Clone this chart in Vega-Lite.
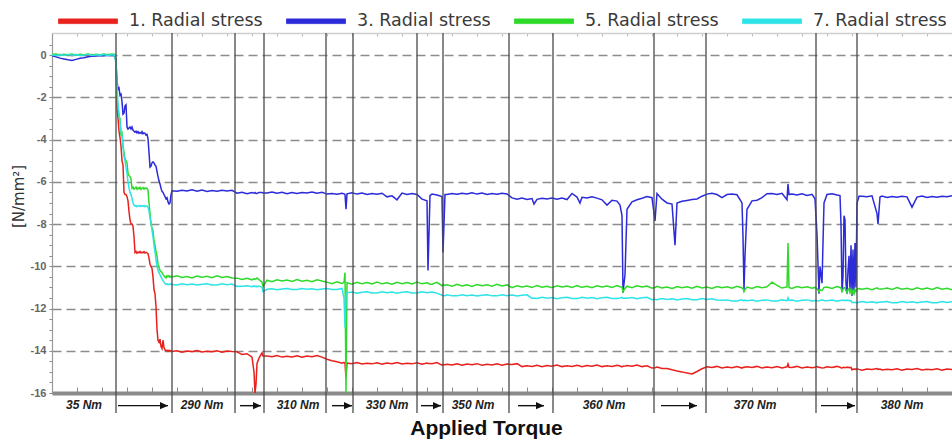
{
"$schema": "https://vega.github.io/schema/vega-lite/v6.json",
"width": 900, "height": 360,
"autosize": {"type": "none"},
"padding": {"left": 52, "top": 33, "right": 0, "bottom": 48},
"background": "white",
"config": {"view": {"stroke": null}, "font": "Liberation Sans"},
"resolve": {"axis": {"x": "independent", "y": "independent"}},
"datasets": {
"series": [
{"x":52,"r":0.02,"b":-0.02,"g":0.03,"c":0.01},
{"x":56,"r":-0.01,"b":-0.08,"g":0.05,"c":-0.02},
{"x":60,"r":0.03,"b":-0.14,"g":0.01,"c":0.02},
{"x":64,"r":0.0,"b":-0.18,"g":0.04,"c":-0.01},
{"x":68,"r":0.02,"b":-0.22,"g":0.02,"c":0.03},
{"x":72,"r":-0.02,"b":-0.25,"g":0.05,"c":0.0},
{"x":76,"r":0.03,"b":-0.2,"g":0.0,"c":0.02},
{"x":80,"r":0.0,"b":-0.15,"g":0.04,"c":-0.02},
{"x":84,"r":0.02,"b":-0.12,"g":0.02,"c":0.01},
{"x":88,"r":-0.02,"b":-0.08,"g":0.05,"c":0.03},
{"x":92,"r":0.03,"b":-0.05,"g":0.01,"c":-0.01},
{"x":96,"r":0.0,"b":-0.04,"g":0.04,"c":0.02},
{"x":100,"r":0.02,"b":-0.02,"g":0.02,"c":0.0},
{"x":104,"r":-0.01,"b":-0.03,"g":0.06,"c":0.03},
{"x":108,"r":0.03,"b":0.0,"g":0.02,"c":-0.01},
{"x":112,"r":0.01,"b":-0.02,"g":0.05,"c":0.02},
{"x":115,"r":0.0,"b":-0.03,"g":0.03,"c":0.0},
{"x":116,"r":-0.3,"b":-0.3,"g":-0.3,"c":-0.5},
{"x":117,"r":-2.5,"b":-1.2,"g":-2.0,"c":-1.5},
{"x":118,"r":-3.0,"b":-1.6,"g":-2.5,"c":-2.3},
{"x":119,"r":-3.6,"b":-1.55,"g":-2.9,"c":-2.8},
{"x":120,"r":-3.9,"b":-1.9,"g":-3.0,"c":-3.2},
{"x":121,"r":-4.3,"b":-1.85,"g":-3.8,"c":-3.6},
{"x":122,"r":-5.0,"b":-2.2,"g":-3.7,"c":-3.8},
{"x":123,"r":-5.2,"b":-2.8,"g":-4.3,"c":-4.3},
{"x":124,"r":-6.5,"b":-2.75,"g":-4.6,"c":-4.8},
{"x":125,"r":-6.6,"b":-2.4,"g":-4.9,"c":-5.0},
{"x":126,"r":-6.6,"b":-2.35,"g":-5.0,"c":-5.3},
{"x":127,"r":-6.7,"b":-3.4,"g":-5.1,"c":-5.6},
{"x":128,"r":-6.9,"b":-3.5,"g":-5.6,"c":-6.0},
{"x":129,"r":-7.4,"b":-3.45,"g":-5.7,"c":-6.3},
{"x":130,"r":-7.8,"b":-3.4,"g":-5.75,"c":-6.5},
{"x":131,"r":-8.0,"b":-3.5,"g":-5.85,"c":-6.6},
{"x":132,"r":-8.0,"b":-3.4,"g":-6.3,"c":-6.8},
{"x":133,"r":-8.1,"b":-3.55,"g":-6.25,"c":-7.0},
{"x":134,"r":-8.6,"b":-3.6,"g":-6.35,"c":-7.1},
{"x":135,"r":-9.35,"b":-3.65,"g":-6.3,"c":-7.15},
{"x":136,"r":-9.3,"b":-3.6,"g":-6.25,"c":-7.12},
{"x":137,"r":-9.38,"b":-3.68,"g":-6.35,"c":-7.18},
{"x":138,"r":-9.32,"b":-3.62,"g":-6.28,"c":-7.14},
{"x":139,"r":-9.36,"b":-3.7,"g":-6.33,"c":-7.16},
{"x":140,"r":-9.3,"b":-3.66,"g":-6.26,"c":-7.12},
{"x":141,"r":-9.37,"b":-3.7,"g":-6.36,"c":-7.17},
{"x":142,"r":-9.33,"b":-3.62,"g":-6.3,"c":-7.13},
{"x":143,"r":-9.36,"b":-3.72,"g":-6.27,"c":-7.16},
{"x":144,"r":-9.31,"b":-3.68,"g":-6.34,"c":-7.12},
{"x":145,"r":-9.37,"b":-3.7,"g":-6.29,"c":-7.18},
{"x":146,"r":-9.34,"b":-3.78,"g":-6.32,"c":-7.14},
{"x":147,"r":-9.36,"b":-3.75,"g":-6.3,"c":-7.15},
{"x":148,"r":-9.4,"b":-3.95,"g":-6.4,"c":-7.2},
{"x":149,"r":-9.6,"b":-4.6,"g":-7.0,"c":-7.4},
{"x":150,"r":-9.9,"b":-5.3,"g":-7.5,"c":-7.7},
{"x":151,"r":-10.0,"b":-5.25,"g":-8.0,"c":-7.9},
{"x":152,"r":-10.1,"b":-5.1,"g":-8.2,"c":-8.3},
{"x":153,"r":-10.5,"b":-5.05,"g":-8.3,"c":-8.6},
{"x":154,"r":-11.1,"b":-5.1,"g":-8.8,"c":-9.0},
{"x":155,"r":-11.3,"b":-5.2,"g":-9.0,"c":-9.3},
{"x":156,"r":-11.9,"b":-5.25,"g":-9.3,"c":-9.7},
{"x":157,"r":-13.0,"b":-5.5,"g":-9.5,"c":-10.0},
{"x":158,"r":-13.5,"b":-5.75,"g":-9.9,"c":-10.2},
{"x":159,"r":-13.6,"b":-5.95,"g":-10.05,"c":-10.3},
{"x":160,"r":-13.45,"b":-6.1,"g":-10.2,"c":-10.4},
{"x":161,"r":-13.8,"b":-6.3,"g":-10.25,"c":-10.5},
{"x":162,"r":-13.9,"b":-6.45,"g":-10.3,"c":-10.6},
{"x":163,"r":-13.5,"b":-6.5,"g":-10.38,"c":-10.68},
{"x":164,"r":-13.85,"b":-6.6,"g":-10.45,"c":-10.75},
{"x":165,"r":-13.95,"b":-6.7,"g":-10.5,"c":-10.8},
{"x":166,"r":-14.0,"b":-6.8,"g":-10.55,"c":-10.85},
{"x":167,"r":-13.97,"b":-6.75,"g":-10.45,"c":-10.82},
{"x":168,"r":-14.03,"b":-6.95,"g":-10.5,"c":-10.87},
{"x":169,"r":-13.98,"b":-7.05,"g":-10.44,"c":-10.84},
{"x":170,"r":-14.02,"b":-7.0,"g":-10.52,"c":-10.86},
{"x":171,"r":-13.99,"b":-6.6,"g":-10.47,"c":-10.83},
{"x":172,"r":-14.03,"b":-6.42,"g":-10.5,"c":-10.86},
{"x":177,"r":-14.0,"b":-6.45,"g":-10.45,"c":-10.88},
{"x":182,"r":-14.07,"b":-6.4,"g":-10.53,"c":-10.83},
{"x":187,"r":-14.01,"b":-6.43,"g":-10.48,"c":-10.87},
{"x":192,"r":-14.04,"b":-6.38,"g":-10.55,"c":-10.84},
{"x":197,"r":-13.99,"b":-6.44,"g":-10.46,"c":-10.89},
{"x":202,"r":-14.06,"b":-6.39,"g":-10.52,"c":-10.85},
{"x":207,"r":-14.02,"b":-6.46,"g":-10.47,"c":-10.83},
{"x":212,"r":-14.05,"b":-6.41,"g":-10.54,"c":-10.88},
{"x":217,"r":-14.0,"b":-6.45,"g":-10.45,"c":-10.88},
{"x":222,"r":-14.07,"b":-6.4,"g":-10.53,"c":-10.83},
{"x":227,"r":-14.01,"b":-6.43,"g":-10.48,"c":-10.87},
{"x":232,"r":-14.04,"b":-6.4,"g":-10.55,"c":-10.84},
{"x":237,"r":-14.05,"b":-6.54,"g":-10.56,"c":-10.95},
{"x":242,"r":-14.18,"b":-6.49,"g":-10.62,"c":-10.94},
{"x":247,"r":-14.14,"b":-6.56,"g":-10.57,"c":-10.92},
{"x":252,"r":-14.3,"b":-6.51,"g":-10.64,"c":-10.97},
{"x":254,"r":-15.0,"b":-6.54,"g":-10.58,"c":-10.93},
{"x":255,"r":-16.0,"b":-6.5,"g":-10.62,"c":-10.96},
{"x":256,"r":-15.6,"b":-6.55,"g":-10.6,"c":-10.94},
{"x":257,"r":-14.6,"b":-6.55,"g":-10.55,"c":-10.97},
{"x":259,"r":-14.35,"b":-6.5,"g":-10.63,"c":-10.93},
{"x":262,"r":-14.1,"b":-6.5,"g":-10.75,"c":-11.0},
{"x":263,"r":-14.25,"b":-6.53,"g":-10.95,"c":-11.2},
{"x":267,"r":-14.25,"b":-6.53,"g":-10.66,"c":-11.09},
{"x":272,"r":-14.28,"b":-6.48,"g":-10.73,"c":-11.06},
{"x":277,"r":-14.23,"b":-6.54,"g":-10.64,"c":-11.11},
{"x":282,"r":-14.3,"b":-6.49,"g":-10.7,"c":-11.07},
{"x":287,"r":-14.26,"b":-6.56,"g":-10.65,"c":-11.05},
{"x":292,"r":-14.29,"b":-6.51,"g":-10.72,"c":-11.1},
{"x":297,"r":-14.24,"b":-6.55,"g":-10.63,"c":-11.1},
{"x":302,"r":-14.31,"b":-6.5,"g":-10.71,"c":-11.05},
{"x":307,"r":-14.25,"b":-6.53,"g":-10.66,"c":-11.09},
{"x":312,"r":-14.28,"b":-6.48,"g":-10.73,"c":-11.06},
{"x":317,"r":-14.23,"b":-6.54,"g":-10.64,"c":-11.11},
{"x":322,"r":-14.3,"b":-6.49,"g":-10.7,"c":-11.07},
{"x":327,"r":-14.4,"b":-6.58,"g":-10.75,"c":-11.05},
{"x":332,"r":-14.47,"b":-6.55,"g":-10.82,"c":-11.1},
{"x":337,"r":-14.52,"b":-6.59,"g":-10.73,"c":-11.1},
{"x":342,"r":-14.59,"b":-6.54,"g":-10.81,"c":-11.05},
{"x":344,"r":-14.55,"b":-6.57,"g":-10.76,"c":-11.5},
{"x":345,"r":-14.6,"b":-6.6,"g":-10.3,"c":-12.9},
{"x":346,"r":-15.3,"b":-7.3,"g":-16.0,"c":-11.3},
{"x":347,"r":-14.58,"b":-6.57,"g":-10.78,"c":-11.25},
{"x":352,"r":-14.61,"b":-6.52,"g":-10.85,"c":-11.22},
{"x":357,"r":-14.56,"b":-6.58,"g":-10.76,"c":-11.27},
{"x":362,"r":-14.63,"b":-6.53,"g":-10.82,"c":-11.23},
{"x":367,"r":-14.59,"b":-6.6,"g":-10.77,"c":-11.21},
{"x":372,"r":-14.62,"b":-6.55,"g":-10.84,"c":-11.26},
{"x":377,"r":-14.57,"b":-6.59,"g":-10.75,"c":-11.26},
{"x":382,"r":-14.64,"b":-6.54,"g":-10.83,"c":-11.21},
{"x":387,"r":-14.58,"b":-6.71,"g":-10.78,"c":-11.25},
{"x":392,"r":-14.61,"b":-6.66,"g":-10.85,"c":-11.22},
{"x":397,"r":-14.56,"b":-6.85,"g":-10.76,"c":-11.27},
{"x":402,"r":-14.63,"b":-6.53,"g":-10.82,"c":-11.23},
{"x":407,"r":-14.59,"b":-6.6,"g":-10.77,"c":-11.21},
{"x":412,"r":-14.62,"b":-6.55,"g":-10.84,"c":-11.26},
{"x":417,"r":-14.57,"b":-6.6,"g":-10.75,"c":-11.26},
{"x":422,"r":-14.64,"b":-6.82,"g":-10.83,"c":-11.21},
{"x":427,"r":-14.58,"b":-6.9,"g":-10.78,"c":-11.25},
{"x":428,"r":-14.6,"b":-10.2,"g":-10.8,"c":-11.24},
{"x":430,"r":-14.6,"b":-6.65,"g":-10.85,"c":-11.23},
{"x":432,"r":-14.61,"b":-6.58,"g":-10.85,"c":-11.22},
{"x":437,"r":-14.56,"b":-6.62,"g":-10.76,"c":-11.27},
{"x":442,"r":-14.68,"b":-6.7,"g":-10.92,"c":-11.37},
{"x":443,"r":-14.65,"b":-9.35,"g":-10.88,"c":-11.38},
{"x":445,"r":-14.66,"b":-6.6,"g":-10.9,"c":-11.39},
{"x":447,"r":-14.64,"b":-6.6,"g":-10.87,"c":-11.35},
{"x":452,"r":-14.67,"b":-6.55,"g":-10.94,"c":-11.4},
{"x":457,"r":-14.62,"b":-6.59,"g":-10.85,"c":-11.4},
{"x":462,"r":-14.69,"b":-6.54,"g":-10.93,"c":-11.35},
{"x":467,"r":-14.63,"b":-6.57,"g":-10.88,"c":-11.39},
{"x":472,"r":-14.66,"b":-6.52,"g":-10.95,"c":-11.36},
{"x":477,"r":-14.61,"b":-6.58,"g":-10.86,"c":-11.41},
{"x":482,"r":-14.68,"b":-6.53,"g":-10.92,"c":-11.37},
{"x":487,"r":-14.64,"b":-6.6,"g":-10.87,"c":-11.35},
{"x":492,"r":-14.67,"b":-6.55,"g":-10.94,"c":-11.4},
{"x":497,"r":-14.62,"b":-6.59,"g":-10.85,"c":-11.4},
{"x":502,"r":-14.69,"b":-6.54,"g":-10.93,"c":-11.35},
{"x":507,"r":-14.63,"b":-6.57,"g":-10.88,"c":-11.39},
{"x":512,"r":-14.65,"b":-6.76,"g":-11.01,"c":-11.36},
{"x":517,"r":-14.61,"b":-6.82,"g":-10.92,"c":-11.41},
{"x":522,"r":-14.75,"b":-6.77,"g":-10.98,"c":-11.37},
{"x":527,"r":-14.71,"b":-6.84,"g":-10.93,"c":-11.35},
{"x":532,"r":-14.74,"b":-6.79,"g":-11.0,"c":-11.52},
{"x":534,"r":-14.72,"b":-7.05,"g":-10.96,"c":-11.5},
{"x":537,"r":-14.69,"b":-6.83,"g":-10.91,"c":-11.52},
{"x":542,"r":-14.76,"b":-6.78,"g":-10.99,"c":-11.47},
{"x":547,"r":-14.7,"b":-6.81,"g":-10.94,"c":-11.51},
{"x":552,"r":-14.73,"b":-6.76,"g":-11.01,"c":-11.48},
{"x":557,"r":-14.68,"b":-6.82,"g":-10.92,"c":-11.53},
{"x":562,"r":-14.75,"b":-6.77,"g":-10.98,"c":-11.49},
{"x":567,"r":-14.71,"b":-6.84,"g":-10.93,"c":-11.47},
{"x":572,"r":-14.74,"b":-6.55,"g":-11.0,"c":-11.52},
{"x":577,"r":-14.69,"b":-6.72,"g":-10.91,"c":-11.52},
{"x":580,"r":-14.72,"b":-7.0,"g":-10.97,"c":-11.5},
{"x":582,"r":-14.76,"b":-6.73,"g":-10.99,"c":-11.47},
{"x":587,"r":-14.7,"b":-6.76,"g":-10.94,"c":-11.51},
{"x":592,"r":-14.73,"b":-6.71,"g":-11.01,"c":-11.48},
{"x":597,"r":-14.68,"b":-6.77,"g":-10.92,"c":-11.53},
{"x":602,"r":-14.75,"b":-6.85,"g":-10.98,"c":-11.49},
{"x":607,"r":-14.71,"b":-7.1,"g":-10.93,"c":-11.47},
{"x":612,"r":-14.74,"b":-6.87,"g":-11.0,"c":-11.52},
{"x":617,"r":-14.69,"b":-6.91,"g":-10.91,"c":-11.52},
{"x":620,"r":-14.72,"b":-7.1,"g":-10.97,"c":-11.5},
{"x":622,"r":-14.76,"b":-7.6,"g":-10.99,"c":-11.47},
{"x":623,"r":-14.73,"b":-11.25,"g":-11.2,"c":-11.52},
{"x":625,"r":-14.72,"b":-10.4,"g":-11.05,"c":-11.5},
{"x":627,"r":-14.7,"b":-7.3,"g":-10.94,"c":-11.51},
{"x":632,"r":-14.73,"b":-6.95,"g":-11.01,"c":-11.48},
{"x":637,"r":-14.68,"b":-6.85,"g":-10.92,"c":-11.53},
{"x":642,"r":-14.75,"b":-6.78,"g":-10.98,"c":-11.49},
{"x":647,"r":-14.71,"b":-6.7,"g":-10.93,"c":-11.47},
{"x":652,"r":-14.82,"b":-6.75,"g":-11.04,"c":-11.58},
{"x":655,"r":-14.8,"b":-7.85,"g":-11.0,"c":-11.56},
{"x":657,"r":-14.77,"b":-6.55,"g":-10.95,"c":-11.58},
{"x":662,"r":-14.84,"b":-6.82,"g":-11.03,"c":-11.53},
{"x":667,"r":-14.84,"b":-7.0,"g":-10.98,"c":-11.57},
{"x":672,"r":-14.9,"b":-7.05,"g":-11.05,"c":-11.54},
{"x":675,"r":-14.93,"b":-9.0,"g":-11.0,"c":-11.56},
{"x":677,"r":-14.96,"b":-7.0,"g":-10.96,"c":-11.59},
{"x":682,"r":-15.0,"b":-6.92,"g":-11.02,"c":-11.55},
{"x":687,"r":-15.05,"b":-6.88,"g":-10.97,"c":-11.53},
{"x":692,"r":-15.1,"b":-6.84,"g":-11.04,"c":-11.58},
{"x":697,"r":-14.98,"b":-6.81,"g":-10.95,"c":-11.58},
{"x":702,"r":-14.85,"b":-6.68,"g":-11.03,"c":-11.53},
{"x":707,"r":-14.76,"b":-6.58,"g":-10.98,"c":-11.57},
{"x":712,"r":-14.79,"b":-6.54,"g":-11.05,"c":-11.54},
{"x":717,"r":-14.74,"b":-6.6,"g":-10.96,"c":-11.59},
{"x":722,"r":-14.81,"b":-6.75,"g":-11.02,"c":-11.61},
{"x":727,"r":-14.77,"b":-6.6,"g":-10.97,"c":-11.59},
{"x":732,"r":-14.8,"b":-6.57,"g":-11.04,"c":-11.64},
{"x":737,"r":-14.75,"b":-6.61,"g":-10.95,"c":-11.64},
{"x":742,"r":-14.82,"b":-7.0,"g":-11.03,"c":-11.59},
{"x":743,"r":-14.78,"b":-8.6,"g":-11.05,"c":-11.62},
{"x":744,"r":-14.79,"b":-11.15,"g":-11.2,"c":-11.63},
{"x":745,"r":-14.77,"b":-9.5,"g":-11.1,"c":-11.6},
{"x":747,"r":-14.76,"b":-7.3,"g":-10.98,"c":-11.63},
{"x":752,"r":-14.79,"b":-6.9,"g":-11.05,"c":-11.6},
{"x":757,"r":-14.74,"b":-6.87,"g":-10.96,"c":-11.65},
{"x":762,"r":-14.81,"b":-6.75,"g":-11.02,"c":-11.61},
{"x":767,"r":-14.77,"b":-6.56,"g":-10.97,"c":-11.59},
{"x":772,"r":-14.8,"b":-6.55,"g":-10.75,"c":-11.64},
{"x":777,"r":-14.75,"b":-6.6,"g":-10.9,"c":-11.64},
{"x":782,"r":-14.82,"b":-6.54,"g":-11.03,"c":-11.59},
{"x":787,"r":-14.76,"b":-6.85,"g":-10.98,"c":-11.63},
{"x":788,"r":-14.62,"b":-6.1,"g":-8.9,"c":-11.5},
{"x":789,"r":-14.78,"b":-6.6,"g":-11.0,"c":-11.62},
{"x":792,"r":-14.79,"b":-6.58,"g":-11.05,"c":-11.6},
{"x":797,"r":-14.74,"b":-6.62,"g":-10.96,"c":-11.65},
{"x":802,"r":-14.81,"b":-6.57,"g":-11.02,"c":-11.61},
{"x":807,"r":-14.77,"b":-6.64,"g":-10.97,"c":-11.59},
{"x":812,"r":-14.8,"b":-6.59,"g":-11.04,"c":-11.64},
{"x":815,"r":-14.78,"b":-6.8,"g":-11.0,"c":-11.62},
{"x":817,"r":-14.75,"b":-8.5,"g":-11.05,"c":-11.64},
{"x":819,"r":-14.79,"b":-11.3,"g":-11.2,"c":-11.63},
{"x":820,"r":-14.78,"b":-10.0,"g":-11.1,"c":-11.62},
{"x":822,"r":-14.82,"b":-10.8,"g":-11.15,"c":-11.59},
{"x":824,"r":-14.8,"b":-7.0,"g":-11.0,"c":-11.62},
{"x":827,"r":-14.76,"b":-6.6,"g":-10.98,"c":-11.63},
{"x":832,"r":-14.79,"b":-6.56,"g":-11.05,"c":-11.6},
{"x":837,"r":-14.74,"b":-6.62,"g":-10.96,"c":-11.65},
{"x":840,"r":-14.78,"b":-6.65,"g":-11.0,"c":-11.62},
{"x":841,"r":-14.8,"b":-8.0,"g":-11.03,"c":-11.61},
{"x":842,"r":-14.81,"b":-11.2,"g":-11.2,"c":-11.61},
{"x":843,"r":-14.79,"b":-10.5,"g":-11.1,"c":-11.62},
{"x":844,"r":-14.78,"b":-7.6,"g":-11.0,"c":-11.6},
{"x":845,"r":-14.8,"b":-7.8,"g":-11.02,"c":-11.62},
{"x":846,"r":-14.79,"b":-10.8,"g":-11.15,"c":-11.63},
{"x":847,"r":-14.77,"b":-11.3,"g":-11.25,"c":-11.59},
{"x":848,"r":-14.8,"b":-10.2,"g":-11.1,"c":-11.62},
{"x":849,"r":-14.78,"b":-9.5,"g":-11.05,"c":-11.61},
{"x":850,"r":-14.8,"b":-11.2,"g":-11.25,"c":-11.63},
{"x":851,"r":-14.79,"b":-9.0,"g":-11.1,"c":-11.62},
{"x":852,"r":-14.9,"b":-11.4,"g":-11.3,"c":-11.72},
{"x":853,"r":-14.87,"b":-9.2,"g":-11.15,"c":-11.7},
{"x":854,"r":-14.88,"b":-11.3,"g":-11.3,"c":-11.71},
{"x":855,"r":-14.86,"b":-8.9,"g":-11.1,"c":-11.7},
{"x":856,"r":-14.89,"b":-11.0,"g":-11.2,"c":-11.72},
{"x":857,"r":-14.85,"b":-7.0,"g":-11.08,"c":-11.72},
{"x":859,"r":-14.88,"b":-6.68,"g":-11.05,"c":-11.7},
{"x":862,"r":-14.92,"b":-6.68,"g":-11.09,"c":-11.67},
{"x":867,"r":-14.86,"b":-6.71,"g":-11.04,"c":-11.71},
{"x":872,"r":-14.89,"b":-6.66,"g":-11.11,"c":-11.68},
{"x":877,"r":-14.84,"b":-7.5,"g":-11.02,"c":-11.73},
{"x":878,"r":-14.88,"b":-8.0,"g":-11.06,"c":-11.7},
{"x":880,"r":-14.87,"b":-6.72,"g":-11.08,"c":-11.7},
{"x":882,"r":-14.91,"b":-6.67,"g":-11.08,"c":-11.69},
{"x":887,"r":-14.87,"b":-6.74,"g":-11.03,"c":-11.67},
{"x":892,"r":-14.9,"b":-6.69,"g":-11.1,"c":-11.72},
{"x":897,"r":-14.85,"b":-6.73,"g":-11.01,"c":-11.72},
{"x":902,"r":-14.92,"b":-6.68,"g":-11.09,"c":-11.67},
{"x":907,"r":-14.86,"b":-6.71,"g":-11.04,"c":-11.71},
{"x":912,"r":-14.89,"b":-7.2,"g":-11.11,"c":-11.68},
{"x":917,"r":-14.84,"b":-6.72,"g":-11.02,"c":-11.73},
{"x":922,"r":-14.91,"b":-6.67,"g":-11.08,"c":-11.69},
{"x":927,"r":-14.87,"b":-6.74,"g":-11.03,"c":-11.67},
{"x":932,"r":-14.9,"b":-6.69,"g":-11.1,"c":-11.72},
{"x":937,"r":-14.85,"b":-6.73,"g":-11.01,"c":-11.72},
{"x":942,"r":-14.92,"b":-6.68,"g":-11.09,"c":-11.67},
{"x":947,"r":-14.86,"b":-6.71,"g":-11.04,"c":-11.71},
{"x":952,"r":-14.89,"b":-6.66,"g":-11.11,"c":-11.68}
],
"seps": [{"t":116},{"t":172},{"t":235},{"t":264},{"t":326},{"t":353},{"t":417},{"t":443},{"t":509},{"t":553},{"t":654},{"t":706},{"t":816},{"t":857}],
"arrows": [{"a":118,"a2":168},{"a":240,"a2":261},{"a":332,"a2":352},{"a":421,"a2":441},{"a":518,"a2":544},{"a":661,"a2":697},{"a":821,"a2":855}],
"labels": [{"l":"35 Nm","x":84},{"l":"290 Nm","x":202},{"l":"310 Nm","x":298},{"l":"330 Nm","x":387},{"l":"350 Nm","x":473},{"l":"360 Nm","x":604},{"l":"370 Nm","x":755},{"l":"380 Nm","x":902}]
},
"layer": [
{
"data": {"name": "series"},
"transform": [{"fold": ["r", "b", "g", "c"], "as": ["key", "v"]}],
"mark": {"type": "line", "strokeWidth": 1.5, "clip": true},
"encoding": {
"x": {"field": "x", "type": "quantitative", "scale": {"domain": [52, 952], "nice": false, "zero": false},
"axis": {"orient": "bottom", "values": [77,102,127,152,177,202,227,252,277,302,327,352,377,402,427,452,477,502,527,552,577,602,627,652,677,702,727,752,777,802,827,852,877,902,927,952], "labels": false, "tickSize": -6, "tickColor": "#8a8a8a", "tickWidth": 1, "domainColor": "#8a8a8a", "domainWidth": 4, "grid": false,
"title": "Applied Torque", "titleFont": "Liberation Sans", "titleFontWeight": "bold", "titleFontSize": 21, "titleColor": "#111", "titleX": 434, "titleY": 41, "titleAlign": "center", "titleBaseline": "alphabetic", "titleAnchor": null}},
"y": {"field": "v", "type": "quantitative", "scale": {"domain": [-16, 1.05], "nice": false, "zero": false},
"axis": {"values": [-16,-15.5,-15,-14.5,-14,-13.5,-13,-12.5,-12,-11.5,-11,-10.5,-10,-9.5,-9,-8.5,-8,-7.5,-7,-6.5,-6,-5.5,-5,-4.5,-4,-3.5,-3,-2.5,-2,-1.5,-1,-0.5,0,0.5],
"labelExpr": "datum.value % 2 === 0 ? '' + datum.value : ''",
"tickSize": 3, "tickColor": "#888", "domainColor": "#9a9a9a", "domainWidth": 1.2,
"labelColor": "#666", "labelFont": "Liberation Sans", "labelFontWeight": "bold", "labelFontSize": 11, "labelPadding": 3,
"grid": true, "gridColor": "#8c8c8c", "gridWidth": 1.3, "gridDash": [9, 5],
"gridOpacity": {"condition": {"test": "datum.value % 2 === 0", "value": 1}, "value": 0},
"title": "[N/mm²]", "titleFont": "DejaVu Sans", "titleFontSize": 15, "titleFontWeight": "normal", "titleColor": "#333",
"titleX": -34, "titleY": 163, "titleAlign": "center", "titleBaseline": "middle", "titleAngle": 270}},
"color": {"field": "key", "type": "nominal", "sort": ["r", "b", "g", "c"],
"scale": {"domain": ["r", "b", "g", "c"], "range": ["#e8211d", "#2b2bd9", "#2fd92a", "#2ee3e8"]},
"legend": {"orient": "none", "legendX": 6, "legendY": -42, "direction": "horizontal", "columns": 4, "title": null,
"padding": 0, "offset": 0,
"labelExpr": "datum.label === 'r' ? '1. Radial stress' : datum.label === 'b' ? '3. Radial stress' : datum.label === 'g' ? '5. Radial stress' : '7. Radial stress'",
"labelFont": "DejaVu Sans", "labelFontSize": 17.5, "labelColor": "#3a3a3a", "labelOffset": 11, "labelLimit": 300,
"columnPadding": 21,
"symbolType": "M-1,-0.08H1V0.08H-1Z", "symbolSize": 3481,
"encode": {"symbols": {"update": {"fill": {"scale": "color", "field": "value"}, "stroke": {"value": "#333"}, "strokeWidth": {"value": 0.8}, "opacity": {"value": 1}}}}}}
}
},
{
"data": {"name": "seps"},
"mark": {"type": "rule", "color": "#4a4a4a", "strokeWidth": 1.3},
"encoding": {
"x": {"field": "t", "type": "quantitative", "scale": {"domain": [52, 952], "nice": false, "zero": false},
"axis": {"orient": "top", "values": [77,102,127,152,177,202,227,252,277,302,327,352,377,402,427,452,477,502,527,552,577,602,627,652,677,702,727,752,777,802,827,852,877,902,927,952], "labels": false, "ticks": true, "tickSize": -3, "tickColor": "#bbb", "domainColor": "#cfcfcf", "domainWidth": 1.5, "grid": false, "title": null}},
"y": {"datum": 1.05, "type": "quantitative", "scale": {"domain": [-16, 1.05], "nice": false, "zero": false}, "axis": null},
"y2": {"datum": -16.95}
}
},
{
"data": {"name": "arrows"},
"mark": {"type": "rule", "color": "#111", "strokeWidth": 1.4},
"encoding": {
"x": {"field": "a", "type": "quantitative", "scale": {"domain": [52, 952], "nice": false, "zero": false}, "axis": null},
"x2": {"field": "a2"},
"y": {"datum": -16.6, "type": "quantitative", "scale": {"domain": [-16, 1.05], "nice": false, "zero": false}, "axis": null}
}
},
{
"data": {"name": "arrows"},
"mark": {"type": "point", "shape": "M-1,-0.45L0,0L-1,0.45Z", "size": 256, "filled": true, "color": "#111", "opacity": 1},
"encoding": {
"x": {"field": "a2", "type": "quantitative", "scale": {"domain": [52, 952], "nice": false, "zero": false}, "axis": null},
"y": {"datum": -16.6, "type": "quantitative", "scale": {"domain": [-16, 1.05], "nice": false, "zero": false}, "axis": null}
}
},
{
"data": {"name": "labels"},
"mark": {"type": "text", "font": "Liberation Sans", "fontWeight": "bold", "fontStyle": "italic", "fontSize": 12, "color": "#222", "align": "center", "baseline": "middle"},
"encoding": {
"x": {"field": "x", "type": "quantitative", "scale": {"domain": [52, 952], "nice": false, "zero": false}, "axis": null},
"y": {"datum": -16.58, "type": "quantitative", "scale": {"domain": [-16, 1.05], "nice": false, "zero": false}, "axis": null},
"text": {"field": "l"}
}
}
]
}
